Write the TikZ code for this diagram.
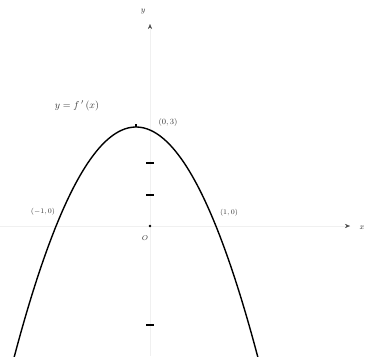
\documentclass[tikz,border=0pt]{standalone}
\usetikzlibrary{arrows.meta}
\begin{document}
\begin{tikzpicture}[x=1pt,y=-1pt,
  axisline/.style={draw=black!6,line width=0.25pt,-{Stealth[length=5pt,width=4pt,black!70]}},
  curveline/.style={draw=black,line width=1.4pt},
  tickmark/.style={draw=black,line width=1.4pt},
  lbl/.style={inner sep=0pt,font=\scriptsize,text=black!80}]
\useasboundingbox (0,0) rectangle (377,356);
% axes
\coordinate (O) at (150,226);
\coordinate (yend) at (150,24);
\coordinate (xend) at (350,226);
\coordinate (xstart) at (0,226);
\coordinate (ystart) at (150,356);
\draw[axisline] (xstart) -- (xend);
\draw[axisline] (ystart) -- (yend);
\node[lbl,font=\footnotesize\itshape] (ylab) at (143,12) {$y$};
\node[lbl,font=\footnotesize] (xlab) at (362,228) {$x$};
\node[lbl] (olab) at (145,238) {$O$};
\fill (O) circle (1.3pt);
% ticks
\foreach \t/\yy in {t1/163,t2/195,t3/325}{
  \coordinate (\t a) at (146,\yy);
  \coordinate (\t b) at (154,\yy);
  \draw[tickmark] (\t a) -- (\t b);
}
% parabola
\begin{scope}
\clip (0,0) rectangle (377,356);
\draw[curveline] plot[domain=10:262,samples=80,smooth] (\x,{127+0.0155*(\x-136)*(\x-136)});
\end{scope}
\coordinate (apex) at (136,127);
\draw[line width=1.2pt] (apex) -- ++(0,-3);
% labels
\node[lbl,font=\normalsize] (flab) at (77,106) {$y=f\,'\,(x)$};
\node[lbl,font=\footnotesize] (plab) at (168,122) {$(0,3)$};
\node[lbl] (llab) at (43,212) {$(-1,0)$};
\node[lbl] (rlab) at (229,213) {$(1,0)$};
\end{tikzpicture}
\end{document}
